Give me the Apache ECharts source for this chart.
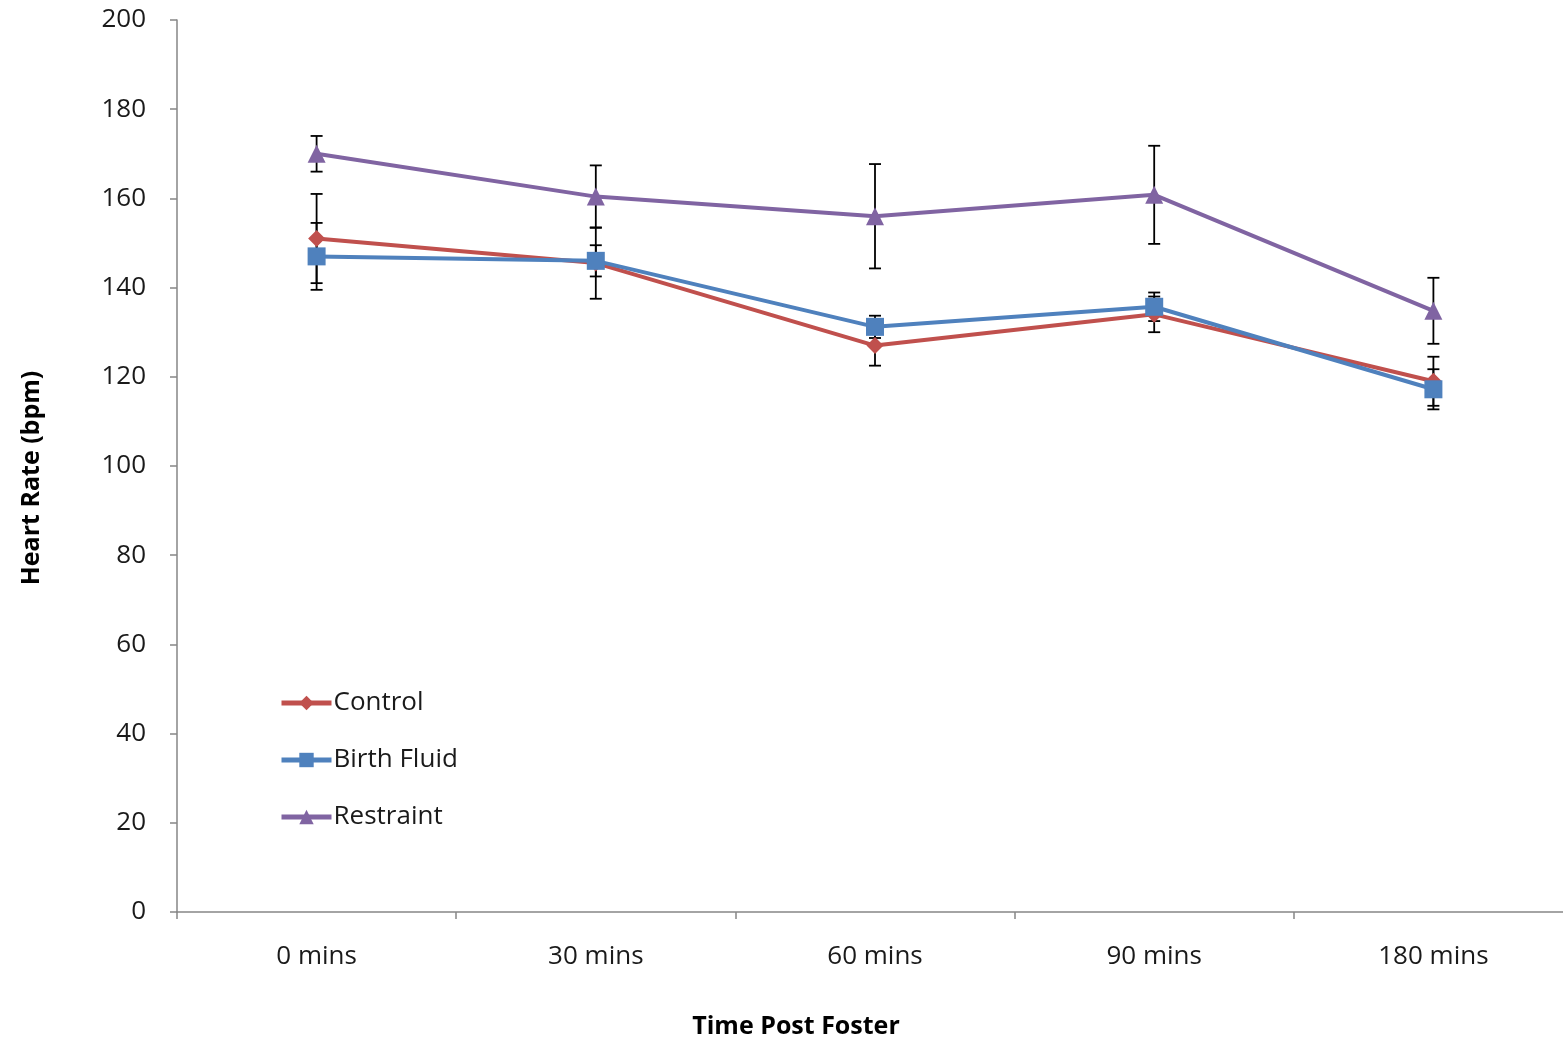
<!DOCTYPE html>
<html><head><meta charset="utf-8">
<script src="https://cdn.jsdelivr.net/npm/echarts@6/dist/echarts.min.js"></script>
<style>html,body{margin:0;padding:0;background:#fff}#c{width:1563px;height:1044px}</style>
</head><body><div id="c"></div>
<script>
const categories = ['0 mins','30 mins','60 mins','90 mins','180 mins'];
const control = [151, 145.5, 127, 134, 119];
const controlErr = [10, 8, 4.5, 4, 5.5];
const birthFluid = [147, 146, 131.2, 135.7, 117.2];
const birthFluidErr = [7.5, 3.5, 2.5, 3.2, 4.5];
const restraint = [170, 160.4, 156, 160.8, 134.8];
const restraintErr = [4, 7, 11.7, 11, 7.4];
const yTicks = {min: 0, max: 200, interval: 20};

const font = '"Open Sans", "Noto Sans", sans-serif';
const colors = {control: '#C0504D', birth: '#4F81BD', restraint: '#8064A2'};

function errData(vals, errs){ return vals.map((v,i)=>[i, v-errs[i], v+errs[i]]); }
function errSeries(name, vals, errs){
  return {
    type: 'custom', name: name + ' err', z: 1, silent: true,
    data: errData(vals, errs),
    renderItem: function(params, api){
      const lo = api.coord([api.value(0), api.value(1)]);
      const hi = api.coord([api.value(0), api.value(2)]);
      const hw = 6;
      const st = {stroke: '#000', lineWidth: 1.8};
      return {type: 'group', children: [
        {type:'line', shape:{x1:hi[0], y1:hi[1], x2:lo[0], y2:lo[1]}, style: st},
        {type:'line', shape:{x1:hi[0]-hw, y1:hi[1], x2:hi[0]+hw, y2:hi[1]}, style: st},
        {type:'line', shape:{x1:lo[0]-hw, y1:lo[1], x2:lo[0]+hw, y2:lo[1]}, style: st}
      ]};
    }
  };
}
function lineSeries(name, vals, color, symbol, size){
  return {type:'line', name: name, data: vals, z: 3, color: color,
    symbol: symbol, symbolSize: size, lineStyle:{width:4, color: color},
    itemStyle:{color: color}};
}

const chart = echarts.init(document.getElementById('c'), null, {renderer:'canvas'});
chart.setOption({
  animation: false,
  backgroundColor: '#fff',
  grid: {left: 177, top: 20, right: -10, bottom: 132, containLabel: false, outerBoundsMode: 'none'},
  legend: {
    orient: 'vertical', left: 279, top: 690, padding: 0, itemWidth: 50, itemHeight: 18, itemGap: 31,
    data: ['Control','Birth Fluid','Restraint'],
    lineStyle: {width: 5},
    textStyle: {fontFamily: font, fontSize: 26, color: '#1a1a1a', padding: [0,0,0,-3]}
  },
  xAxis: {
    type: 'category', data: categories, boundaryGap: true,
    name: 'Time Post Foster', nameLocation: 'middle', nameGap: 102,
    nameTextStyle: {fontFamily: font, fontSize: 25, fontWeight: 'bold', color: '#000', padding:[0,158,0,0]},
    axisLine: {lineStyle: {color: '#868686', width: 1.5}},
    axisTick: {show: true, length: 7, alignWithLabel: false, lineStyle:{color:'#868686', width:1.5}},
    axisLabel: {fontFamily: font, fontSize: 26, color: '#1a1a1a', margin: 32}
  },
  yAxis: {
    type: 'value', min: yTicks.min, max: yTicks.max, interval: yTicks.interval,
    name: 'Heart Rate (bpm)', nameLocation: 'middle', nameGap: 133, nameRotate: 90,
    nameTextStyle: {fontFamily: font, fontSize: 25, fontWeight: 'bold', color: '#000', padding:[0,24,0,0]},
    axisLine: {show: true, lineStyle: {color: '#868686', width: 1.5}},
    axisTick: {show: true, length: 7, lineStyle:{color:'#868686', width:1.5}},
    splitLine: {show: false},
    axisLabel: {fontFamily: font, fontSize: 26, color: '#1a1a1a', margin: 31}
  },
  series: [
    errSeries('Control', control, controlErr),
    errSeries('Birth Fluid', birthFluid, birthFluidErr),
    errSeries('Restraint', restraint, restraintErr),
    lineSeries('Control', control, colors.control, 'diamond', 17),
    lineSeries('Birth Fluid', birthFluid, colors.birth, 'rect', 18),
    lineSeries('Restraint', restraint, colors.restraint, 'triangle', 18)
  ]
});
</script></body></html>
